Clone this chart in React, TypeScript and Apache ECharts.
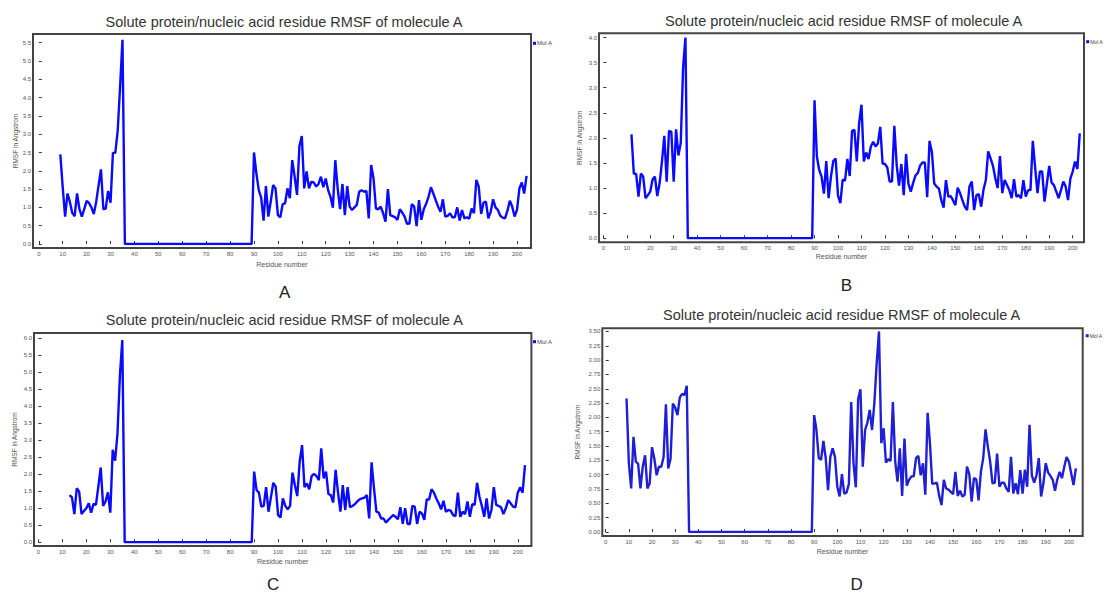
import React, { useEffect, useRef } from "react";
import * as echarts from "echarts";

// ---------- data ----------
const titleText = "Solute protein/nucleic acid residue RMSF of molecule A";
const legendText = "Mol A";
const panelLetters = ["A", "B", "C", "D"];
const xAxisName = "Residue number";
const yAxisName = "RMSF in Angstrom";

const gapResidues = [36, 89];
const gapRmsf = [0, 0];
const cTermStart = 90;

const nStartA = 9;
const nTermA = [2.45, 1.55, 0.75, 1.38, 1.15, 0.85, 0.76, 1.38, 0.95, 0.75, 0.95, 1.18, 1.12, 1.0, 0.82, 1.15, 1.6, 2.04, 0.95, 0.97, 1.45, 1.13, 2.49, 2.49, 3.1, 4.3, 5.58];
const cTermA = [
  2.5, 1.93, 1.47, 1.27, 0.64, 1.58, 0.75, 1.16, 1.61, 1.52,
  0.79, 0.73, 1.09, 1.11, 1.52, 1.25, 2.29, 1.84, 1.34, 2.68,
  2.95, 1.52, 1.98, 1.52, 1.7, 1.68, 1.57, 1.64, 1.84, 1.55,
  1.79, 1.47, 1.29, 0.99, 2.29, 1.52, 0.95, 1.64, 0.79, 1.58,
  1.02, 0.93, 1.0, 1.07, 1.43, 1.47, 1.43, 1.45, 0.7, 2.16,
  1.79, 0.97, 0.95, 1.02, 0.84, 0.61, 1.5, 0.79, 0.76, 0.73,
  0.66, 0.95, 0.86, 0.75, 0.55, 0.56, 1.09, 1.02, 0.49, 1.2,
  0.66, 0.95, 1.1, 1.29, 1.55, 1.38, 1.2, 1.02, 0.88, 1.22,
  0.75, 0.77, 0.84, 0.73, 0.73, 1.0, 0.64, 0.93, 0.7, 0.73,
  0.69, 0.97, 0.84, 1.75, 1.57, 0.82, 1.13, 1.16, 0.7, 0.88,
  1.22, 1.0, 0.93, 0.77, 0.72, 0.7, 0.91, 1.18, 1.02, 0.75,
  0.93, 1.52, 1.68, 1.38, 1.86,
];

const nStartB = 12;
const nTermB = [2.07, 1.29, 1.28, 0.83, 1.29, 1.23, 0.8, 0.86, 0.93, 1.17, 1.23, 0.84, 1.1, 1.53, 2.04, 1.13, 2.14, 2.12, 1.13, 2.17, 1.65, 1.9, 3.4, 4.0];
const cTermB = [
  2.75, 1.63, 1.36, 1.23, 0.89, 1.54, 0.8, 1.23, 1.54, 1.59,
  0.85, 0.7, 1.17, 1.15, 1.58, 1.24, 2.14, 2.16, 1.53, 2.29,
  2.66, 1.53, 1.71, 1.58, 1.83, 1.92, 1.83, 1.89, 2.22, 1.49,
  1.48, 1.41, 1.13, 1.13, 2.24, 1.46, 1.05, 1.48, 0.86, 1.68,
  1.09, 0.93, 1.1, 1.25, 1.3, 1.45, 1.51, 1.51, 0.82, 1.94,
  1.72, 1.09, 1.03, 0.99, 0.76, 0.61, 1.16, 0.83, 0.84, 0.76,
  0.66, 1.01, 0.9, 0.76, 0.63, 0.56, 1.03, 1.13, 0.56, 0.86,
  0.88, 0.63, 0.97, 1.16, 1.73, 1.59, 1.45, 1.2, 1.0, 1.64,
  0.9, 1.16, 1.06, 0.96, 0.8, 1.18, 0.83, 0.86, 0.8, 1.16,
  0.83, 0.96, 0.96, 1.94, 1.41, 0.9, 1.33, 1.33, 0.73, 1.09,
  1.44, 1.11, 1.06, 0.93, 0.8, 0.96, 1.13, 1.03, 0.76, 1.19,
  1.33, 1.53, 1.38, 2.09,
];

const nStartC = 13;
const nTermC = [1.39, 1.32, 0.83, 1.59, 1.49, 0.83, 0.92, 1.0, 1.15, 0.87, 1.13, 1.1, 1.64, 2.2, 1.07, 1.2, 1.47, 0.87, 2.72, 2.4, 3.2, 4.9, 5.95];
const cTermC = [
  2.08, 1.54, 1.46, 1.05, 1.07, 1.62, 0.9, 1.32, 1.75, 1.64,
  0.8, 0.73, 1.29, 1.07, 0.97, 1.07, 2.05, 1.68, 1.36, 2.37,
  2.86, 1.62, 1.73, 1.56, 1.95, 2.01, 1.95, 1.83, 2.76, 1.88,
  2.08, 1.42, 1.39, 1.17, 2.13, 1.46, 0.9, 1.68, 0.95, 1.62,
  1.03, 1.07, 1.12, 1.2, 1.26, 1.29, 1.31, 1.39, 0.7, 2.35,
  1.59, 0.9, 0.87, 0.7, 0.7, 0.58, 0.66, 0.73, 0.8, 0.75,
  0.68, 1.03, 0.54, 1.0, 0.54, 0.54, 1.07, 1.05, 0.54, 0.9,
  0.85, 0.66, 1.26, 1.26, 1.56, 1.46, 1.29, 1.15, 0.97, 1.22,
  0.9, 0.95, 0.93, 0.8, 0.77, 1.46, 0.75, 0.9, 0.83, 1.2,
  0.75, 1.12, 1.1, 1.75, 1.34, 1.07, 0.75, 1.29, 0.7, 0.95,
  1.62, 1.1, 1.07, 1.03, 0.83, 1.0, 1.24, 1.15, 1.05, 1.03,
  1.46, 1.62, 1.46, 2.27,
];

const nStartD = 9;
const nTermD = [2.33, 1.2, 0.76, 1.66, 1.23, 1.19, 0.76, 1.14, 1.34, 0.76, 0.85, 1.48, 1.28, 0.99, 1.14, 1.14, 1.31, 2.23, 1.11, 1.28, 2.24, 2.17, 2.04, 2.35, 2.41, 2.39, 2.55];
const cTermD = [
  2.04, 1.78, 1.29, 1.26, 1.59, 1.29, 0.73, 1.31, 1.46, 1.31,
  0.79, 0.62, 1.01, 0.67, 0.69, 0.84, 2.27, 1.2, 0.78, 2.32,
  2.49, 1.14, 1.78, 1.91, 2.13, 1.78, 2.25, 2.94, 3.5, 1.55,
  1.81, 1.21, 1.27, 1.24, 2.27, 1.23, 0.88, 1.46, 0.63, 1.63,
  0.81, 0.91, 0.97, 0.97, 1.29, 1.33, 0.99, 1.2, 0.65, 2.08,
  1.55, 0.84, 0.85, 0.86, 0.63, 0.47, 0.91, 0.76, 0.74, 0.7,
  0.66, 1.05, 0.63, 0.72, 0.62, 0.65, 1.14, 1.01, 0.53, 0.94,
  0.92, 0.55, 1.05, 1.29, 1.79, 1.49, 1.23, 0.85, 0.86, 1.37,
  0.79, 0.86, 0.86, 0.76, 0.7, 1.31, 0.67, 0.85, 0.66, 1.08,
  0.67, 1.09, 0.79, 1.87, 0.99, 0.86, 0.99, 1.29, 0.62, 0.85,
  1.2, 1.04, 0.98, 0.91, 0.72, 0.92, 1.05, 0.94, 1.14, 1.31,
  1.23, 1.02, 0.82, 1.11,
];

const xStep = 10;
const yStepsByPanel = [0.5, 0.5, 0.5, 0.25];
const yDecimalsByPanel = [1, 1, 1, 2];

// ---------- layout (pixels) ----------
const layouts = [
  { fl: 33, ft: 34, fr: 531, fb: 248, x0: 38.8, xu: 2.391, y0: 244, yu: 36.6, titleX: 284, titleY: 22, letterX: 284.6, letterY: 292, legX: 533, legY: 43.3, legFont: 6, yNameX: 15.4, xNameY: 264.3, color: "#0a0aff" },
  { fl: 599, ft: 33.3, fr: 1084, fb: 242.3, x0: 603.3, xu: 2.347, y0: 238.3, yu: 50.2, titleX: 843.6, titleY: 20.7, letterX: 846.3, letterY: 285, legX: 1086.2, legY: 41.7, legFont: 5, yNameX: 579, xNameY: 256.7, color: "#0a0aff" },
  { fl: 34, ft: 333, fr: 531.4, fb: 546, x0: 38.4, xu: 2.397, y0: 542.3, yu: 34, titleX: 284.3, titleY: 320, letterX: 273.2, letterY: 584.5, legX: 533, legY: 341.7, legFont: 6, yNameX: 14.3, xNameY: 561.7, color: "#0a0aff" },
  { fl: 602.3, ft: 328.3, fr: 1082.7, fb: 536, x0: 605.7, xu: 2.316, y0: 532, yu: 57.3, titleX: 841.6, titleY: 315, letterX: 856.7, letterY: 584, legX: 1085.7, legY: 335.7, legFont: 5, yNameX: 577.3, xNameY: 551.7, color: "#1f1fd6" },
];

const FONT = '"Liberation Sans", Arial, Helvetica, sans-serif';

function buildData(nStart: number, nTerm: number[], cTerm: number[]) {
  const pts: number[][] = nTerm.map((v, i) => [nStart + i, v]);
  gapResidues.forEach((r, i) => pts.push([r, gapRmsf[i]]));
  cTerm.forEach((v, i) => pts.push([cTermStart + i, v]));
  return pts;
}

const panelData = [
  buildData(nStartA, nTermA, cTermA),
  buildData(nStartB, nTermB, cTermB),
  buildData(nStartC, nTermC, cTermC),
  buildData(nStartD, nTermD, cTermD),
];

function onStep(v: number, step: number) {
  const k = v / step;
  return Math.abs(k - Math.round(k)) < 1e-6;
}

function textEl(x: number, y: number, text: string, size: number, fill: string, align: string, rotation = 0) {
  return {
    type: "text",
    x,
    y,
    rotation,
    silent: true,
    style: {
      text,
      x: 0,
      y: 0,
      fill,
      fontSize: size,
      fontFamily: FONT,
      align,
      textAlign: align,
      verticalAlign: "middle",
      textVerticalAlign: "middle",
    },
  };
}

function buildOption() {
  const grid: any[] = [];
  const xAxis: any[] = [];
  const yAxis: any[] = [];
  const series: any[] = [];
  const graphic: any[] = [];

  layouts.forEach((L, i) => {
    const yStep = yStepsByPanel[i];
    const yDec = yDecimalsByPanel[i];
    grid.push({ left: L.x0, top: L.ft, width: L.fr - L.x0, height: L.y0 - L.ft, containLabel: false });
    xAxis.push({
      gridIndex: i,
      type: "value",
      min: 0,
      max: (L.fr - L.x0) / L.xu,
      interval: xStep,
      offset: L.fb - L.y0,
      axisLine: { show: false },
      axisTick: { show: true, inside: true, length: 3, lineStyle: { color: "#333", width: 1 } },
      axisLabel: {
        fontSize: 6,
        fontFamily: FONT,
        color: "#555",
        margin: 3,
        formatter: (v: number) => (onStep(v, xStep) ? String(Math.round(v)) : ""),
      },
      splitLine: { show: false },
    });
    yAxis.push({
      gridIndex: i,
      type: "value",
      min: 0,
      max: (L.y0 - L.ft) / L.yu,
      interval: yStep,
      offset: L.x0 - L.fl,
      axisLine: { show: false },
      axisTick: { show: true, inside: true, length: 3, lineStyle: { color: "#333", width: 1 } },
      axisLabel: {
        fontSize: 6,
        fontFamily: FONT,
        color: "#555",
        margin: 2,
        formatter: (v: number) => (onStep(v, yStep) ? v.toFixed(yDec) : ""),
      },
      splitLine: { show: false },
    });
    series.push({
      type: "line",
      name: legendText,
      xAxisIndex: i,
      yAxisIndex: i,
      data: panelData[i],
      showSymbol: false,
      symbol: "none",
      lineStyle: { color: L.color, width: 2.4 },
      itemStyle: { color: L.color },
    });

    // frame
    graphic.push({
      type: "rect",
      silent: true,
      shape: { x: L.fl, y: L.ft, width: L.fr - L.fl, height: L.fb - L.ft },
      style: { fill: "none", stroke: "#444", lineWidth: 2 },
      z: 10,
    });
    // title
    graphic.push(textEl(L.titleX, L.titleY, titleText, 14.5, "#333", "center"));
    // axis names
    graphic.push(textEl((L.fl + L.fr) / 2, L.xNameY, xAxisName, 7, "#555", "center"));
    graphic.push(textEl(L.yNameX, (L.ft + L.fb) / 2, yAxisName, 6.5, "#555", "center", Math.PI / 2));
    // legend
    graphic.push({
      type: "rect",
      silent: true,
      shape: { x: L.legX, y: L.legY - 1.5, width: 3, height: 3 },
      style: { fill: L.color },
    });
    graphic.push(textEl(L.legX + 4, L.legY, legendText, L.legFont, "#444", "left"));
    // panel letter
    graphic.push(textEl(L.letterX, L.letterY, panelLetters[i], 17, "#222", "center"));
  });

  return {
    animation: false,
    backgroundColor: "#ffffff",
    grid,
    xAxis,
    yAxis,
    series,
    graphic: { elements: graphic },
  };
}

export default function App() {
  const ref = useRef<HTMLDivElement>(null);
  useEffect(() => {
    if (!ref.current) return;
    const chart = echarts.init(ref.current, undefined, { renderer: "svg" });
    chart.setOption(buildOption() as any);
    return () => chart.dispose();
  }, []);
  return (
    <div
      ref={ref}
      style={{ position: "fixed", left: 0, top: 0, width: 1104, height: 594, background: "#fff" }}
    />
  );
}
